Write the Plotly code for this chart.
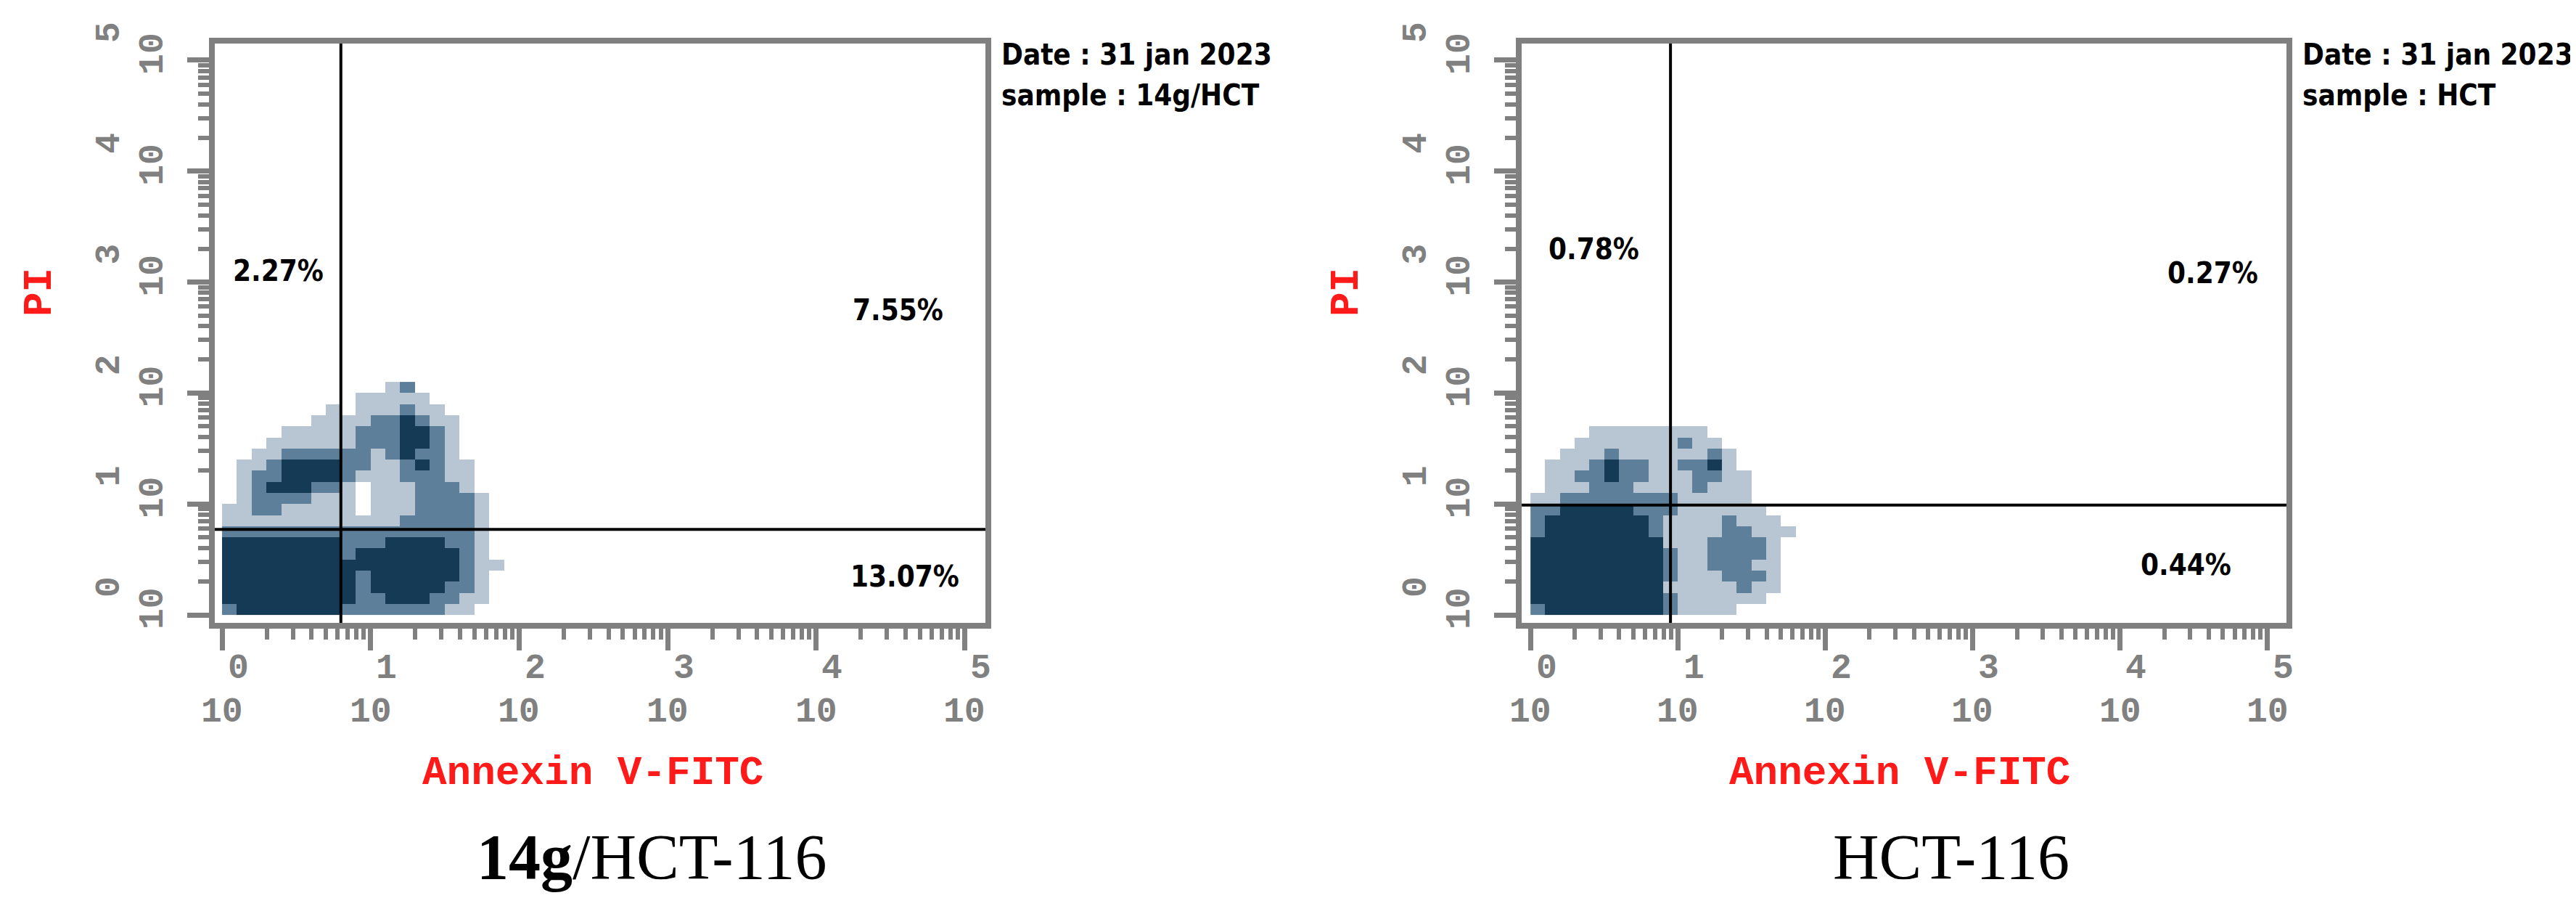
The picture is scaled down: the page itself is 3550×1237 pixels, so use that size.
import numpy as np
import plotly.graph_objects as go

W, H = 3550, 1237

# density grids (0 = empty .. 3 = solid), rows listed from top (y 2.0-2.1) to bottom (y 0-0.1),
# columns x 0.0 .. 1.9 in steps of 0.1 decade
grid_14g = [
    "00000000000120000000",
    "00000000011111000000",
    "00000001011121100000",
    "00000011112232110000",
    "00001111122233210000",
    "00011111122233210000",
    "00112222221232210000",
    "01123333221123211000",
    "01223333211122211000",
    "01233322101112221000",
    "01222211101112222100",
    "11221111101112222100",
    "11111111111122222100",
    "22222222222222222100",
    "33333333222333322100",
    "33333333233333332100",
    "33333333333333332110",
    "33333333323333332100",
    "33333333323333322100",
    "33333333322333221100",
    "23333333222222211000",
]
grid_hct = [
    "00000000000000000000",
    "00000000000000000000",
    "00000000000000000000",
    "00000000000000000000",
    "00001111111100000000",
    "00011111112110000000",
    "00111211111121000000",
    "01112322112231000000",
    "01122322111221100000",
    "01112221111211100000",
    "11222222221111100000",
    "22333332221111110000",
    "23333333211112111000",
    "23333333211112211100",
    "33333333311122221000",
    "33333333321122221000",
    "33333333321122211000",
    "33333333321112221000",
    "33333333311111211000",
    "33333333321111110000",
    "23333333321111000000",
]
bin_x = [round(0.05 + 0.1 * i, 2) for i in range(20)]
bin_y = [round(0.05 + 0.1 * i, 2) for i in range(21)]

# quadrant gates (log10 units) and quadrant percentages
gate_14g = (0.80, 0.77)
gate_hct = (0.95, 0.99)
pct_14g = ["2.27%", "7.55%", "13.07%"]
pct_hct = ["0.78%", "0.27%", "0.44%"]
samples = ["14g/HCT", "HCT"]
captions = ["<b>14g</b>/HCT-116", "HCT-116"]
date_txt = "31 jan 2023"

decades = [0, 1, 2, 3, 4, 5]
minor_vals = [k + np.log10(m) for k in range(5) for m in range(2, 10)]

GRAY = "#808080"
RED = "#ff1a1a"
DOT = "#143a56"
scale = [[0, "#ffffff"], [0.2, "#ffffff"], [0.2, "#b7c6d2"], [0.5, "#b7c6d2"],
         [0.5, "#5d7f99"], [0.8, "#5d7f99"], [0.8, DOT], [1, DOT]]
tick_font = dict(family="Liberation Mono", size=48, color=GRAY)
mid = dict(xanchor="center", yanchor="middle", showarrow=False)


def to_z(rows):
    return [[int(c) for c in r] for r in rows[::-1]]


fig = go.Figure()
panels = [
    dict(grid=grid_14g, gate=gate_14g, pct=pct_14g, dom=[288 / W, 1350 / W], xr=[-0.049, 5.14], sfx="",
         pos=[(0.38, 3.1), (4.55, 2.75), (4.6, 0.35)], title_x=809, cap_x=890),
    dict(grid=grid_hct, gate=gate_hct, pct=pct_hct, dom=[2089 / W, 3143 / W], xr=[-0.06, 5.13], sfx="2",
         pos=[(0.43, 3.3), (4.63, 3.08), (4.45, 0.45)], title_x=2610, cap_x=2681),
]
ydom = [1 - 850 / H, 1 - 52 / H]
yr = [-0.072, 5.15]

for i, p in enumerate(panels):
    xa, ya = "x" + p["sfx"], "y" + p["sfx"]
    fig.add_trace(go.Heatmap(z=to_z(p["grid"]), x=bin_x, y=bin_y, zmin=0, zmax=3,
                             colorscale=scale, showscale=False, xaxis=xa, yaxis=ya,
                             hoverinfo="skip"))
    common = dict(showline=True, linecolor=GRAY, linewidth=8, mirror=True, showgrid=False,
                  zeroline=False, ticks="outside", tickcolor=GRAY, tickwidth=7, ticklen=30,
                  tickmode="array", tickvals=decades, showticklabels=False,
                  minor=dict(tickmode="array", tickvals=minor_vals, ticks="outside",
                             ticklen=15, tickwidth=6, tickcolor=GRAY, showgrid=False))
    fig.layout["xaxis" + p["sfx"]] = dict(common, domain=p["dom"], range=p["xr"], anchor=ya)
    fig.layout["yaxis" + p["sfx"]] = dict(common, domain=ydom, range=yr, anchor=xa)

    # log tick labels: exponent above / left of the "10"
    left = p["dom"][0] * W
    for d in decades:
        fig.add_annotation(x=d, y=1 - 973 / H, xref=xa, yref="paper", text="<b>10</b>",
                           font=tick_font, **mid)
        fig.add_annotation(x=d, y=1 - 913 / H, xref=xa, yref="paper", text="<b>%d</b>" % d,
                           xshift=22, font=tick_font, **mid)
        fig.add_annotation(x=(left - 85) / W, y=d, xref="paper", yref=ya, text="<b>10</b>",
                           textangle=-90, yshift=9, font=tick_font, **mid)
        fig.add_annotation(x=(left - 145) / W, y=d, xref="paper", yref=ya, text="<b>%d</b>" % d,
                           textangle=-90, yshift=38, font=tick_font, **mid)

    gx, gy = p["gate"]
    fig.add_shape(type="line", xref=xa, yref=ya, x0=gx, x1=gx, y0=yr[0], y1=yr[1],
                  line=dict(color="black", width=4))
    fig.add_shape(type="line", xref=xa, yref=ya, x0=p["xr"][0], x1=p["xr"][1], y0=gy, y1=gy,
                  line=dict(color="black", width=4))

    # quadrant labels
    for (px, py), t in zip(p["pos"], p["pct"]):
        fig.add_annotation(x=px, y=py, xref=xa, yref=ya, text="<b>%s</b>" % t,
                           font=dict(family="DejaVu Sans Condensed", size=40, color="black"), **mid)

    right = p["dom"][1] * W
    for yy, txt in [(67, "<b>Date : %s</b>" % date_txt), (123, "<b>sample : %s</b>" % samples[i])]:
        fig.add_annotation(x=(right + 20) / W, y=1 - yy / H, xref="paper", yref="paper",
                           xanchor="left", yanchor="middle", text=txt, showarrow=False,
                           font=dict(family="DejaVu Sans Condensed", size=40, color="black"))
    fig.add_annotation(x=p["title_x"] / W, y=1 - 1057 / H, xref="paper", yref="paper",
                       text="<b>Annexin V-FITC</b>",
                       font=dict(family="Liberation Mono", size=56, color=RED), **mid)
    fig.add_annotation(x=(left - 241) / W, y=1 - 395 / H, xref="paper", yref="paper",
                       text="<b>PI</b>", textangle=-90,
                       font=dict(family="Liberation Mono", size=56, color=RED), **mid)
    fig.add_annotation(x=p["cap_x"] / W, y=1 - 1172 / H, xref="paper", yref="paper",
                       text=captions[i],
                       font=dict(family="Liberation Serif", size=88, color="black"), **mid)

fig.update_layout(width=W, height=H, margin=dict(l=0, r=0, t=0, b=0),
                  paper_bgcolor="white", plot_bgcolor="white", showlegend=False)

fig.write_html("out.html")
